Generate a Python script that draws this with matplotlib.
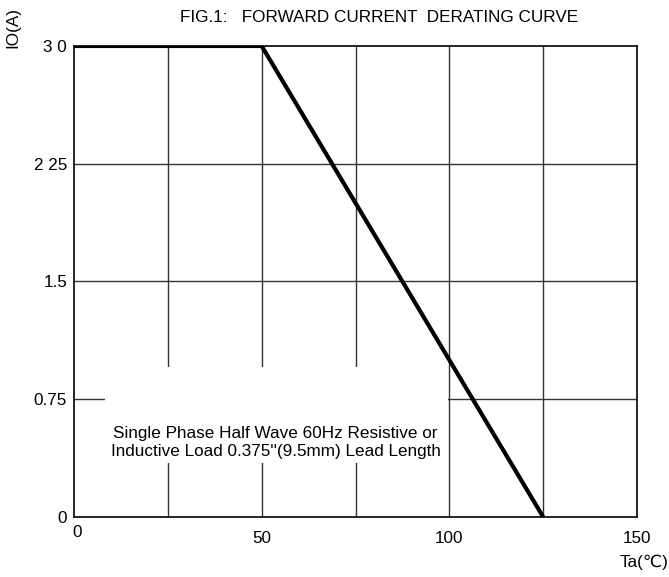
import matplotlib.pyplot as plt
from matplotlib.patches import Rectangle
from matplotlib.transforms import ScaledTranslation

plt.rcParams['font.family'] = ['Liberation Sans', 'DejaVu Sans']

# derating curve
temp_c = [0, 50, 125]
current_a = [3.0, 3.0, 0.0]

x_ticks = [0, 50, 100, 150]
x_grid = [25, 50, 75, 100, 125]
y_ticks = [0, 0.75, 1.5, 2.25, 3.0]
y_tick_labels = ["0", "0.75", "1.5", "2 25", "3 0"]

fs = 12.3

fig = plt.figure(figsize=(6.69, 5.77), dpi=100)
ax = fig.add_axes([0.1106, 0.104, 0.8416, 0.8163])

ax.set_xlim(0, 150)
ax.set_ylim(0, 3.0)

for xv in x_grid:
    ax.axvline(xv, color="#333333", linewidth=1.0, zorder=0.5)
for yv in y_ticks[1:-1]:
    ax.axhline(yv, color="#333333", linewidth=1.0, zorder=0.5)

# white patch behind the note text
ax.add_patch(Rectangle((8.3, 0.345), 91.4, 0.61, facecolor="white",
                       edgecolor="none", zorder=1))

ax.plot(temp_c, current_a, color="black", linewidth=3, zorder=3,
        solid_capstyle="butt")

ax.text(53.7, 0.475,
        "Single Phase Half Wave 60Hz Resistive or\n"
        "Inductive Load 0.375''(9.5mm) Lead Length",
        ha="center", va="center", fontsize=fs, linespacing=1.27, zorder=2)

ax.set_xticks(x_ticks)
ax.set_xticklabels([str(v) for v in x_ticks])
ax.set_yticks(y_ticks)
ax.set_yticklabels(y_tick_labels)
ax.tick_params(axis="both", length=0, labelsize=fs)
ax.tick_params(axis="x", pad=10)
ax.tick_params(axis="y", pad=5)

lbl0 = ax.get_xticklabels()[0]
lbl0.set_transform(lbl0.get_transform()
                   + ScaledTranslation(2 / 72, 4 / 72, fig.dpi_scale_trans))

for sp in ax.spines.values():
    sp.set_linewidth(1.2)
    sp.set_color("black")

fig.text(0.5665, 1 - 17 / 577, "FIG.1:   FORWARD CURRENT  DERATING CURVE",
         ha="center", va="center", fontsize=fs)
fig.text(13 / 669, 1 - 28 / 577, "IO(A)", rotation=90,
         ha="center", va="center", fontsize=fs)
fig.text(668 / 669, 1 - 562 / 577, "Ta(℃)", ha="right", va="center",
         fontsize=fs)

fig.savefig("out.png", dpi=100)
